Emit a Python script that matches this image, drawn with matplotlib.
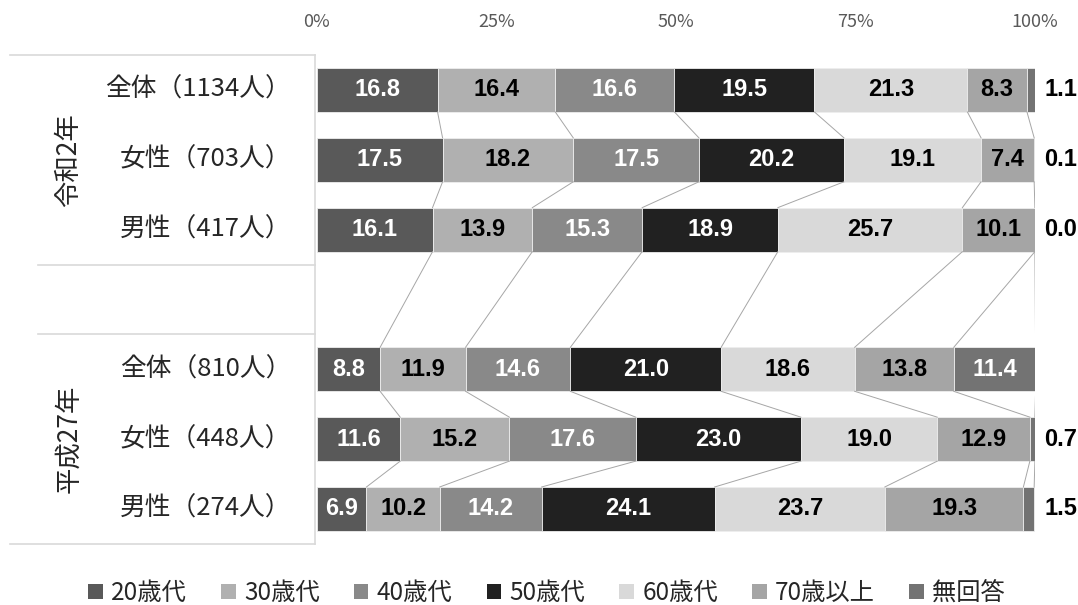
import matplotlib
matplotlib.use('Agg')
import matplotlib.pyplot as plt
import matplotlib.transforms as mtransforms
from matplotlib.patches import Patch
import numpy as np

plt.rcParams['font.family'] = ['Noto Sans CJK JP', 'DejaVu Sans']

# Data (percent)
row_labels = ['全体（1134人）', '女性（703人）', '男性（417人）',
              '全体（810人）', '女性（448人）', '男性（274人）']
row_pos = [0, 1, 2, 4, 5, 6]
groups = ['令和2年', '平成27年']
group_pos = [1, 5]
categories = ['20歳代', '30歳代', '40歳代', '50歳代', '60歳代', '70歳以上', '無回答']
values = [
    [16.8, 16.4, 16.6, 19.5, 21.3, 8.3, 1.1],
    [17.5, 18.2, 17.5, 20.2, 19.1, 7.4, 0.1],
    [16.1, 13.9, 15.3, 18.9, 25.7, 10.1, 0.0],
    [8.8, 11.9, 14.6, 21.0, 18.6, 13.8, 11.4],
    [11.6, 15.2, 17.6, 23.0, 19.0, 12.9, 0.7],
    [6.9, 10.2, 14.2, 24.1, 23.7, 19.3, 1.5],
]
ticks = [0, 25, 50, 75, 100]

colors = ['#595959', '#b0b0b0', '#898989', '#212121', '#d9d9d9', '#a5a5a5', '#737373']
text_colors = ['white', 'black', 'white', 'white', 'black', 'black', 'white']

vals = np.array(values)
cum = np.cumsum(vals, axis=1)
left = cum - vals
bar_h = 0.63

fig = plt.figure(figsize=(10.78, 6.05), dpi=100)
ax = fig.add_axes([0.294, 0.101, 0.666, 0.808])

for k, cat in enumerate(categories):
    ax.barh(row_pos, vals[:, k], left=left[:, k], height=bar_h,
            color=colors[k], edgecolor='#eeeeee', linewidth=0.6, label=cat)

# value labels
for i, y in enumerate(row_pos):
    for k in range(len(categories)):
        v = vals[i, k]
        if v < 2:
            ax.text(103.6, y, f'{v:.1f}', ha='center', va='center',
                    fontsize=17, fontweight='bold', color='black',
                    family='Liberation Sans')
        else:
            ax.text(left[i, k] + v / 2, y, f'{v:.1f}', ha='center', va='center',
                    fontsize=17, fontweight='bold', color=text_colors[k],
                    family='Liberation Sans')

# series lines between neighbouring bars
for i in range(len(row_pos) - 1):
    y0 = row_pos[i] + bar_h / 2
    y1 = row_pos[i + 1] - bar_h / 2
    for k in range(len(categories)):
        ax.plot([cum[i, k], cum[i + 1, k]], [y0, y1], color='#a6a6a6', lw=0.7, zorder=1)

ax.set_xlim(0, 100)
ax.set_ylim(6.5, -0.5)
ax.xaxis.tick_top()
ax.set_xticks(ticks)
ax.set_xticklabels([f'{t}%' for t in ticks])
ax.tick_params(axis='x', length=0, pad=17, labelsize=13, labelcolor='#595959')
ax.set_yticks([])
for s in ax.spines.values():
    s.set_visible(False)

# left table frame and labels
trans = mtransforms.blended_transform_factory(ax.transAxes, ax.transData)
frame_col = '#d9d9d9'
ax.plot([-0.428, -0.003], [-0.5, -0.5], color=frame_col, lw=1.2, transform=trans, clip_on=False)
ax.plot([-0.389, -0.003], [2.5, 2.5], color=frame_col, lw=1.2, transform=trans, clip_on=False)
ax.plot([-0.389, -0.003], [3.5, 3.5], color=frame_col, lw=1.2, transform=trans, clip_on=False)
ax.plot([-0.428, -0.003], [6.5, 6.5], color=frame_col, lw=1.2, transform=trans, clip_on=False)
ax.plot([-0.003, -0.003], [-0.5, 6.5], color=frame_col, lw=1.2, transform=trans, clip_on=False)

for lab, y in zip(row_labels, row_pos):
    ax.text(-0.036, y, lab, ha='right', va='center', fontsize=18.5,
            color='#262626', transform=trans)
for g, y in zip(groups, group_pos):
    ax.text(-0.346, y, g, ha='center', va='center', fontsize=19, rotation=90,
            color='#262626', transform=trans)

handles = [Patch(facecolor=c, edgecolor='none') for c in colors]
fig.legend(handles, categories, loc='lower center', bbox_to_anchor=(0.507, -0.038),
           ncol=7, frameon=False, fontsize=17.5, handlelength=0.6, handleheight=0.6,
           handletextpad=0.35, columnspacing=1.4, labelcolor='#262626')

fig.savefig('out.png', dpi=100)
